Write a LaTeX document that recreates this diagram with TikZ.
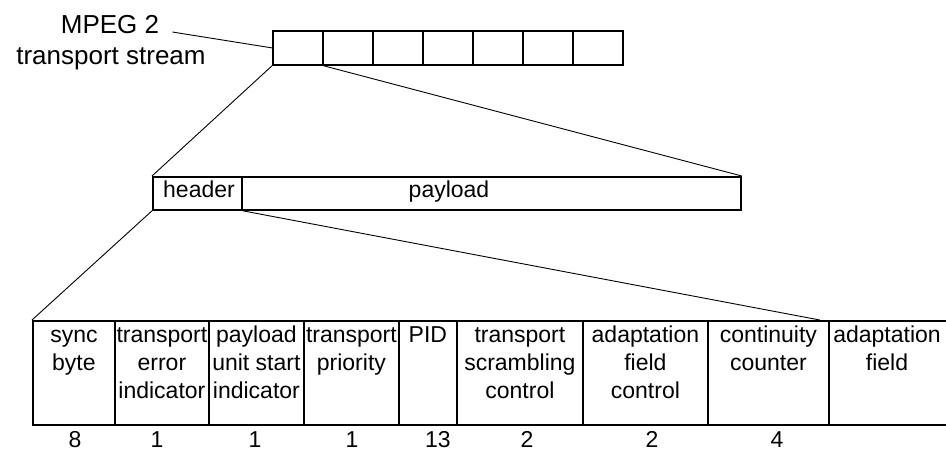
\documentclass[tikz,border=0pt]{standalone}
\usepackage{fontspec}
\setmainfont{Liberation Sans}
\newcommand\cstrut{\rule{0pt}{17pt}}
\begin{document}
\begin{tikzpicture}[x=1pt,y=-1pt,
  box/.style={draw, line width=1.8pt, rectangle, inner sep=0pt, anchor=north west},
  conn/.style={line width=0.9pt},
  lbl/.style={font=\fontsize{23}{28}\selectfont, inner sep=0pt},
  biglbl/.style={font=\fontsize{26}{30}\selectfont, inner sep=0pt, anchor=base},
  celltxt/.style={lbl, anchor=north, align=center},
  numtxt/.style={lbl, anchor=base},
]
\useasboundingbox (0,0) rectangle (946,451);

% transport stream
\foreach \i in {0,...,6}
  \node[box, minimum width=50pt, minimum height=34pt] (s\i) at ({272+50*\i},30) {};
\node[biglbl] (mpeg) at (110,33) {MPEG 2};
\node[biglbl] (ts) at (111,64) {transport stream};
\coordinate (mpegend) at ([xshift=13pt,yshift=1pt]mpeg.base east);

% packet
\node[box, minimum width=89pt, minimum height=33pt] (hdr) at (152,176) {};
\node[box, minimum width=499pt, minimum height=33pt] (pay) at (241,176) {};
\node[lbl, anchor=base west] (hdrt) at (163,197) {header};
\node[lbl, anchor=base] (payt) at (449,197) {payload};

% header fields
\node[box, minimum width=82pt, minimum height=104pt] (c1) at (32,320) {};
\node[box, minimum width=94pt, minimum height=104pt] (c2) at (114,320) {};
\node[box, minimum width=95pt, minimum height=104pt] (c3) at (208,320) {};
\node[box, minimum width=95pt, minimum height=104pt] (c4) at (303,320) {};
\node[box, minimum width=58pt, minimum height=104pt] (c5) at (398,320) {};
\node[box, minimum width=126pt, minimum height=104pt] (c6) at (456,320) {};
\node[box, minimum width=125pt, minimum height=104pt] (c7) at (582,320) {};
\node[box, minimum width=121pt, minimum height=104pt] (c8) at (707,320) {};
\node[box, minimum width=140pt, minimum height=104pt] (c9) at (828,320) {};

\node[celltxt] (t1) at ([yshift=-5pt]c1.north) {\cstrut sync\\byte};
\node[celltxt] (t2) at ([yshift=-5pt]c2.north) {\cstrut transport\\error\\indicator};
\node[celltxt] (t3) at ([yshift=-5pt]c3.north) {\cstrut payload\\unit start\\indicator};
\node[celltxt] (t4) at ([yshift=-5pt]c4.north) {\cstrut transport\\priority};
\node[celltxt] (t5) at ([yshift=-5pt]c5.north) {\cstrut PID};
\node[celltxt] (t6) at ([yshift=-5pt]c6.north) {\cstrut transport\\scrambling\\control};
\node[celltxt] (t7) at ([yshift=-5pt]c7.north) {\cstrut adaptation\\field\\control};
\node[celltxt] (t8) at ([yshift=-5pt]c8.north) {\cstrut continuity\\counter};
\node[celltxt] (t9) at (887,325) {\cstrut adaptation\\field};

% bit counts
\node[numtxt] (n1) at (75,447) {8};
\node[numtxt] (n2) at (157,447) {1};
\node[numtxt] (n3) at (255,447) {1};
\node[numtxt] (n4) at (352,447) {1};
\node[numtxt] (n5) at (438,447) {13};
\node[numtxt] (n6) at (527,447) {2};
\node[numtxt] (n7) at (652,447) {2};
\node[numtxt] (n8) at (777,447) {4};

% connectors
\coordinate (hend) at ([xshift=-10pt]c8.north east);
\draw[conn] (mpegend) -- (s0.west);
\draw[conn] (s0.south west) -- (hdr.north west);
\draw[conn] (s0.south east) -- (pay.north east);
\draw[conn] (hdr.south west) -- (c1.north west);
\draw[conn] (hdr.south east) -- (hend);
\end{tikzpicture}
\end{document}
